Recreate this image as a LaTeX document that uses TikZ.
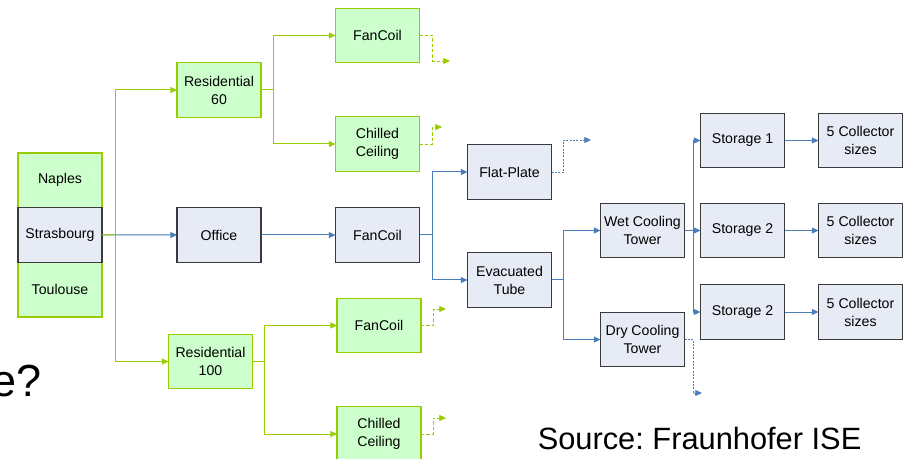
\documentclass[tikz,border=0pt]{standalone}
\usepackage{fontspec}
\setmainfont{Liberation Sans}
\usetikzlibrary{arrows.meta,positioning}

\definecolor{leafgreen}{HTML}{CCFFCC}
\definecolor{limeline}{HTML}{99CC00}
\definecolor{paleblue}{HTML}{E6EBF5}
\definecolor{flowblue}{HTML}{4A7EBB}
\definecolor{edgegray}{HTML}{3A3A3A}

\begin{document}
\frenchspacing
\begin{tikzpicture}[
  x=0.75pt, y=-0.75pt,
  every node/.style={align=center, font=\fontsize{10.6}{13.5}\selectfont},
  box/.style={draw, line width=0.9pt, minimum width=63pt, minimum height=41pt, inner sep=0pt, outer sep=0pt},
  gbox/.style={box, draw=limeline, fill=leafgreen},
  bbox/.style={box, draw=edgegray, fill=paleblue},
  garrow/.style={-{Triangle[length=5pt,width=4.5pt]}, draw=limeline, line width=0.75pt},
  barrow/.style={-{Triangle[length=5pt,width=4.5pt]}, draw=flowblue, line width=0.75pt},
  gdash/.style={garrow, dash pattern=on 2.5pt off 1.5pt, line width=0.6pt},
  bdash/.style={barrow, dash pattern=on 1.5pt off 1pt, line width=0.6pt}
]
  \useasboundingbox (0,0) rectangle (909,459);

  % Climates
  \node[gbox] (naples) at (60,180.3) {Naples};
  \node[gbox, below=41pt of naples] (toulouse) {Toulouse};
  \node[bbox, below=0pt of naples] (strasbourg) {Strasbourg};

  % Buildings and distribution
  \node[gbox] (res60) at (219,90) {Residential\\60};
  \node[bbox] (office) at (219,235) {Office};
  \node[gbox] (res100) at (210.5,361.5) {Residential\\100};
  \node[gbox] (fancoila) at (377.5,35.5) {FanCoil};
  \node[gbox] (chilleda) at (377.5,144) {Chilled\\Ceiling};
  \node[bbox] (fancoilm) at (377.5,235) {FanCoil};
  \node[gbox] (fancoilb) at (379,325.5) {FanCoil};
  \node[gbox] (chilledb) at (379,434) {Chilled\\Ceiling};

  % Collectors, towers, storage
  \node[bbox] (flatplate) at (509.5,172) {Flat-Plate};
  \node[bbox] (evacuated) at (509.5,280) {Evacuated\\Tube};
  \node[bbox] (wettower) at (642.5,230.5) {Wet Cooling\\Tower};
  \node[bbox] (drytower) at (642.5,339.5) {Dry Cooling\\Tower};
  \node[bbox] (storagea) at (742.5,140.5) {Storage 1};
  \node[bbox] (storageb) at (742.5,230.5) {Storage 2};
  \node[bbox] (storagec) at (742.5,312) {Storage 2};
  \node[bbox, right=25.5pt of storagea] (collectora) {5 Collector\\sizes};
  \node[bbox, right=25.5pt of storageb] (collectorb) {5 Collector\\sizes};
  \node[bbox, right=25.5pt of storagec] (collectorc) {5 Collector\\sizes};

  % Branches
  \coordinate (citysplit) at (115,235);
  \draw[barrow] (strasbourg) -- (office);
  \draw[limeline, line width=0.75pt] (strasbourg.east) -- (citysplit);
  \draw[garrow] (citysplit) |- (res60);
  \draw[garrow] (citysplit) |- (res100);

  \draw[garrow] (res60.east) -- ++(12,0) |- (fancoila);
  \draw[garrow] (res60.east) -- ++(12,0) |- (chilleda);
  \draw[garrow] (res100.east) -- ++(12,0) |- (fancoilb);
  \draw[garrow] (res100.east) -- ++(12,0) |- (chilledb);

  \draw[barrow] (office) -- (fancoilm);
  \draw[barrow] (fancoilm.east) -- ++(13,0) |- (flatplate);
  \draw[barrow] (fancoilm.east) -- ++(13,0) |- (evacuated);
  \draw[barrow] (evacuated.east) -- ++(12,0) |- (wettower);
  \draw[barrow] (evacuated.east) -- ++(12,0) |- (drytower);
  \draw[barrow] (wettower.east) -- ++(9,0) |- (storagea);
  \draw[barrow] (wettower.east) -- ++(9,0) |- (storageb);
  \draw[barrow] (wettower.east) -- ++(9,0) |- (storagec);
  \draw[barrow] (storagea) -- (collectora);
  \draw[barrow] (storageb) -- (collectorb);
  \draw[barrow] (storagec) -- (collectorc);

  % Branches not followed further
  \coordinate (outfa) at (450,61);
  \coordinate (outca) at (442,127);
  \coordinate (outfb) at (446,309);
  \coordinate (outcb) at (446,418);
  \coordinate (outflat) at (591,140);
  \coordinate (outdry) at (702,393);
  \draw[gdash] (fancoila.east) -- ++(13,0) |- (outfa);
  \draw[gdash] (chilleda.east) -- ++(13,0) |- (outca);
  \draw[gdash] (fancoilb.east) -- ++(12,0) |- (outfb);
  \draw[gdash] (chilledb.east) -- ++(12,0) |- (outcb);
  \draw[bdash] (flatplate.east) -- ++(12,0) |- (outflat);
  \draw[bdash] (drytower.east) -- ++(9,0) |- (outdry);

  % Loose text
  \node[anchor=base east, inner sep=0pt, font=\fontsize{33.75}{40}\selectfont] (question) at (42,396) {e?};
  \node[anchor=base west, inner sep=0pt, font=\fontsize{23.1}{28}\selectfont] (source) at (537.5,449) {Source: Fraunhofer ISE};
\end{tikzpicture}
\end{document}
